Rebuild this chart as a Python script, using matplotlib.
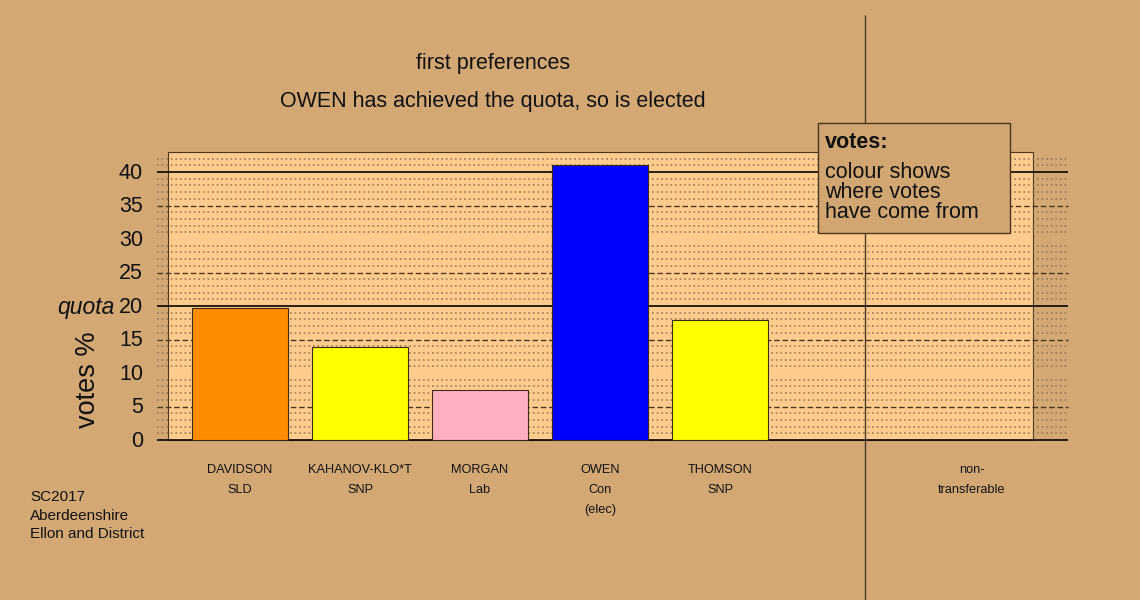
import matplotlib
matplotlib.use("Agg")
import matplotlib.pyplot as plt
from matplotlib.patches import Rectangle

plt.rcParams['font.family'] = ['Liberation Sans', 'DejaVu Sans']

# ---- data ----
candidates = ["DAVIDSON", "KAHANOV-KLO*T", "MORGAN", "OWEN", "THOMSON"]
parties = ["SLD", "SNP", "Lab", "Con", "SNP"]
status = ["", "", "", "(elec)", ""]
votes_pct = [19.7, 13.9, 7.5, 41.0, 17.9]
bar_colors = ["#FF8C00", "#FFFF00", "#FFB0C0", "#0000FF", "#FFFF00"]
quota = 20
yticks = [0, 5, 10, 15, 20, 25, 30, 35, 40]
title_lines = ["first preferences", "OWEN has achieved the quota, so is elected"]
legend_title = "votes:"
legend_lines = ["colour shows", "where votes", "have come from"]
nontransfer_label = ["non-", "transferable"]
place_lines = ["SC2017", "Aberdeenshire", "Ellon and District"]

BG = "#D4A874"
PANEL = "#FFCC8E"
DOT = "#9A7A55"

W, H = 1140, 600
fig = plt.figure(figsize=(W / 100, H / 100), dpi=100, facecolor=BG)
ax = fig.add_axes([0, 0, 1, 1])
ax.set_facecolor(BG)
ax.axis('off')

# pixel -> data mapping (x: 120 px per slot, bar 0 centre at 240; y: 6.7 px per %, zero at 440)
def X(px):
    return (px - 240) / 120.0

def Y(py):
    return (440 - py) / 6.7

ax.set_xlim(X(0), X(W))
ax.set_ylim(Y(H), Y(0))

# panel
ax.add_patch(Rectangle((X(168), 0), X(1033) - X(168), Y(152), facecolor=PANEL,
                       edgecolor="#4a3520", linewidth=0.8, zorder=1))

x0, x1 = X(157), X(1068)
for v in range(1, 43):
    if v % 5 == 0:
        continue
    ax.hlines(v, x0, x1, colors=DOT, linestyles=(0, (1.2, 1.8)), linewidth=1.1, zorder=2)
for v in [5, 15, 25, 35]:
    ax.hlines(v, x0, x1, colors="#4a3520", linestyles=(0, (4, 2)), linewidth=1.0, zorder=2)
for v in [0, quota, 40]:
    ax.hlines(v, x0, x1, colors="#1a1008", linewidth=1.3, zorder=3)

xs = list(range(len(candidates)))
ax.bar(xs, votes_pct, width=0.8, color=bar_colors, edgecolor="#3a2a18",
       linewidth=0.8, zorder=4)

# vertical separator
ax.vlines(X(865), Y(600), Y(15), colors="#4a3a2a", linewidth=1.0, zorder=5)

# tick labels
for t in yticks:
    ax.text(X(143), t - 0.2, str(t), ha='right', va='center', fontsize=15.5, color='#111111', zorder=6)
ax.text(X(115), quota - 0.2, "quota", ha='right', va='center', fontsize=16.5,
        style='italic', color='#111111')
ax.text(X(88), Y(380), "votes %", rotation=90, ha='center', va='center',
        fontsize=19.5, color='#111111')

# titles
ax.text(X(493), Y(64), title_lines[0], ha='center', va='center', fontsize=15.5, color='#111111')
ax.text(X(493), Y(101), title_lines[1], ha='center', va='center', fontsize=15.5, color='#111111')

# candidate labels
for i, (c, p, s) in enumerate(zip(candidates, parties, status)):
    ax.text(i, Y(470), c, ha='center', va='center', fontsize=9.2, color='#111111')
    ax.text(i, Y(490), p, ha='center', va='center', fontsize=9.2, color='#111111')
    if s:
        ax.text(i, Y(510), s, ha='center', va='center', fontsize=9.2, color='#111111')

ax.text(X(972), Y(470), nontransfer_label[0], ha='center', va='center', fontsize=9.2, color='#111111')
ax.text(X(972), Y(490), nontransfer_label[1], ha='center', va='center', fontsize=9.2, color='#111111')

# place text
for j, line in enumerate(place_lines):
    ax.text(X(30), Y(497 + 18.5 * j), line, ha='left', va='center', fontsize=11, color='#111111')

# legend box
ax.add_patch(Rectangle((X(818), Y(233)), X(1010) - X(818), Y(123) - Y(233),
                       facecolor="#D2A672", edgecolor="#4a3520", linewidth=1.0, zorder=7))
ax.text(X(825), Y(142), legend_title, ha='left', va='center', fontsize=15.5,
        fontweight='bold', color='#111111', zorder=8)
for j, line in enumerate(legend_lines):
    ax.text(X(825), Y(172 + 20 * j), line, ha='left', va='center', fontsize=15.5,
            color='#111111', zorder=8)

fig.savefig("out.png", dpi=100, facecolor=BG)
